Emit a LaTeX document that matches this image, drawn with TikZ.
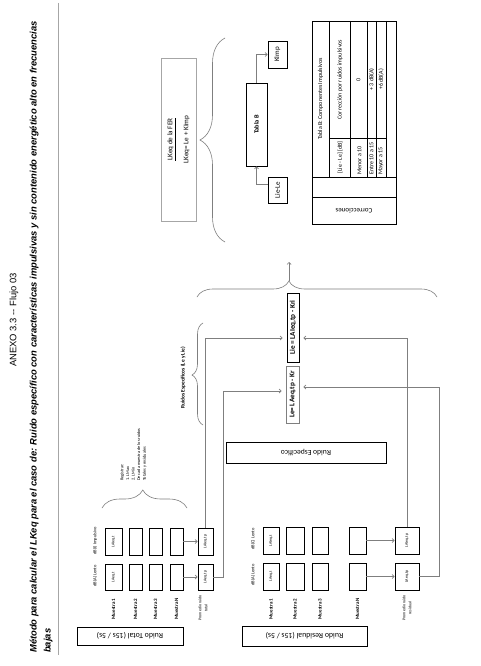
\documentclass[tikz,border=0pt]{standalone}
\usepackage{fontspec}
\usepackage{graphicx}
\setmainfont{Carlito}
\newfontfamily\arialfont{Liberation Sans}
\usetikzlibrary{arrows.meta,positioning,decorations.pathreplacing}
\definecolor{lineagris}{HTML}{7F7F7F}
\definecolor{bordegris}{HTML}{A6A6A6}
\newcommand{\girar}[1]{\rotatebox{90}{#1}}
\tikzset{
  caja/.style={draw, line width=0.9pt, inner sep=0pt, font=\fontsize{4}{5}\selectfont},
  etiqueta/.style={rotate=90, inner sep=0pt, font=\fontsize{4.5}{5.5}\selectfont},
  muestra/.style={rotate=90, inner sep=0pt, font=\bfseries\fontsize{5}{6}\selectfont},
  tabtxt/.style={rotate=90, inner sep=0pt, font=\fontsize{6}{7}\selectfont},
  conector/.style={draw=lineagris, line width=0.7pt},
  flecha/.style={conector, -{Straight Barb[length=2pt,width=4pt]}},
  llave/.style 2 args={draw=lineagris, line width=0.6pt, decorate,
    decoration={brace, amplitude=#1, aspect=#2}},
}

\begin{document}
\begin{tikzpicture}[x=1pt,y=-1pt]
    \path[use as bounding box, fill=white] (0,0) rectangle (480,666);

    % encabezado de la pagina
    \node[rotate=90, font=\arialfont\fontsize{9.4}{12}\selectfont] (anexo) at (14,320) {ANEXO 3.3 -- Flujo 03};
    \node[rotate=90, anchor=base west, inner sep=0pt,
          font=\arialfont\bfseries\itshape\fontsize{9.4}{14}\selectfont] (titulo) at (36.5,653)
        {Método para calcular el LKeq para el caso de: Ruido específico con características impulsivas y sin contenido energético alto en frecuencias};
    \node[rotate=90, anchor=base west, inner sep=0pt,
          font=\arialfont\bfseries\itshape\fontsize{9.4}{14}\selectfont] (titulob) at (50.5,653) {bajas};
    \draw[bordegris, line width=0.6pt] (58,3) -- (58,655);

    % ruido total
    \node[caja, minimum width=106pt, minimum height=18pt, font=\fontsize{7.8}{9}\selectfont] (rtotal) at (130,636) {\rotatebox{180}{Ruido Total (15s / 5s)}};
    \node[etiqueta] (tlA) at (95,541) {dB(I) Impulsivo};
    \node[etiqueta] (tlB) at (95,576) {dB(A) Lento};
    \node[caja, minimum width=17pt, minimum height=27pt] (t1a) at (113.5,541.5) {\girar{LAIeq,t}};
    \node[caja, minimum width=17pt, minimum height=26pt] (t1b) at (113.5,577) {\girar{LAeq,t}};
    \node[caja, minimum width=13pt, minimum height=27pt] (t2a) at (135.5,541.5) {};
    \node[caja, minimum width=13pt, minimum height=26pt] (t2b) at (135.5,577) {};
    \node[caja, minimum width=13pt, minimum height=27pt] (t3a) at (155.5,541.5) {};
    \node[caja, minimum width=13pt, minimum height=26pt] (t3b) at (155.5,577) {};
    \node[caja, minimum width=13pt, minimum height=27pt] (tNa) at (176.5,541.5) {};
    \node[caja, minimum width=13pt, minimum height=26pt] (tNb) at (176.5,577) {};
    \node[caja, minimum width=15pt, minimum height=27pt] (tpa) at (205.5,541.5) {\girar{LAIeq,tp}};
    \node[caja, minimum width=15pt, minimum height=26pt] (tpb) at (205.5,577) {\girar{LAeq,tp}};
    \node[muestra] (tm1) at (113.5,609) {Muestra 1};
    \node[muestra] (tm2) at (135.5,609) {Muestra 2};
    \node[muestra] (tm3) at (155.5,609) {Muestra 3};
    \node[muestra] (tmN) at (176.5,609) {Muestra N};
    \node[etiqueta, align=center, font=\fontsize{4}{6}\selectfont] (tmp) at (203,608) {Promedio ruido\\total};
    \draw[flecha] (tNa.east) -- (tpa.west);
    \draw[flecha] (tNb.east) -- (tpb.west);

    % indicacion de registro
    \draw[llave={18pt}{0.48}] (102,508) -- (187,508);
    \node[etiqueta, anchor=west, align=left, font=\fontsize{4.3}{5.6}\selectfont] (registro) at (133.5,481)
        {Registrar:\\1. LMax\\2. LMin\\De cada muestra de los ruidos\\Totales y residuales};

    % ruido residual
    \node[caja, minimum width=125pt, minimum height=20pt, font=\fontsize{7.8}{9}\selectfont] (rresidual) at (304.5,636) {\rotatebox{180}{Ruido Residual (15s / 5s)}};
    \node[etiqueta] (rlA) at (253,539) {dB(C) Lento};
    \node[etiqueta] (rlB) at (253,575) {dB(A) Lento};
    \node[caja, minimum width=16pt, minimum height=27pt] (r1a) at (271,540.5) {\girar{LAIeq,t}};
    \node[caja, minimum width=16pt, minimum height=27pt] (r1b) at (271,576.5) {\girar{LAeq,t}};
    \node[caja, minimum width=18pt, minimum height=27pt] (r2a) at (295,540.5) {};
    \node[caja, minimum width=18pt, minimum height=27pt] (r2b) at (295,576.5) {};
    \node[caja, minimum width=16pt, minimum height=27pt] (r3a) at (320,540.5) {};
    \node[caja, minimum width=16pt, minimum height=27pt] (r3b) at (320,576.5) {};
    \node[caja, minimum width=17pt, minimum height=27pt] (rNa) at (357.5,540.5) {};
    \node[caja, minimum width=17pt, minimum height=27pt] (rNb) at (357.5,576.5) {};
    \node[caja, minimum width=24pt, minimum height=27pt] (rpa) at (407,540.5) {\girar{LAIeq,tp}};
    \node[caja, minimum width=24pt, minimum height=27pt] (rpb) at (407,576.5) {\girar{LAeq,tp}};
    \node[muestra] (rm1) at (271,609) {Muestra 1};
    \node[muestra] (rm2) at (295,609) {Muestra 2};
    \node[muestra] (rm3) at (320,609) {Muestra 3};
    \node[muestra] (rmN) at (357.5,609) {Muestra N};
    \node[etiqueta, align=center, font=\fontsize{4}{6}\selectfont] (rmp) at (407,608) {Promedio ruido\\residual};
    \draw[flecha] (rNa.east) -- (rpa.west);
    \draw[flecha] (rNb.east) -- (rpb.west);

    % ruido especifico
    \node[caja, minimum width=160pt, minimum height=21pt, font=\fontsize{7.6}{9}\selectfont] (respec) at (306,452.5) {\rotatebox{180}{Ruido Específico}};
    \node[caja, line width=0.8pt, minimum width=12pt, minimum height=69pt, font=\bfseries\fontsize{7.2}{8}\selectfont] (lie) at (293,327.5) {\girar{Lie = LAIeq,tp - Kri}};
    \node[caja, draw=lineagris, line width=0.6pt, minimum width=13pt, minimum height=57pt, font=\bfseries\fontsize{7.2}{8}\selectfont] (le) at (292.5,394.5) {\girar{Le= LAeq,tp - Kr}};
    \draw[flecha, shorten >=4pt] (tpa.north) |- ([yshift=-10.5pt]lie.west);
    \draw[flecha, shorten >=4pt] (tpb.east) -- ++(10,0) |- ([yshift=3.5pt]le.west);
    \draw[flecha, shorten >=4pt] (rpa.north) |- ([yshift=-10.5pt]lie.east);
    \draw[flecha, shorten >=4pt] (rpb.east) -- ++(20,0) |- ([yshift=7.5pt]le.east);
    \draw[llave={11pt}{0.49}] (203,425) -- (203,323);
    \node[etiqueta, font=\bfseries\fontsize{5.4}{6}\selectfont] (respecs) at (183,378) {Ruidos Específicos (Le y Lie)};
    \draw[llave={16pt}{0.383}] (197,297) -- (437,297);
    \coordinate (puntaEsp) at (289,281);
    \coordinate (salidaEsp) at (289,262);
    \draw[flecha] (puntaEsp) -- (salidaEsp);

    % LKeq de la FER
    \node[draw=bordegris, line width=0.6pt, inner sep=0pt, minimum width=35pt, minimum height=163pt,
          font=\fontsize{7.2}{9}\selectfont] (lkeq) at (178.5,139.5)
        {\girar{\begin{tabular}{@{}c@{}}\underline{LKeq de la FER}\\[7pt]LKeq= Le + KImp\end{tabular}}};
    \draw[llave={25pt}{0.5}] (225,242) -- (225,38);

    % tabla B
    \node[caja, minimum width=21pt, minimum height=83pt, font=\bfseries\fontsize{6.3}{7}\selectfont] (tablaB) at (256.5,124.5) {\girar{Tabla B}};
    \node[caja, minimum width=19pt, minimum height=27pt, font=\fontsize{7}{8}\selectfont] (kimp) at (277.5,54.5) {\girar{KImp}};
    \node[caja, minimum width=19pt, minimum height=26pt, font=\fontsize{7}{8}\selectfont] (lieLe) at (277.5,190) {\girar{Lie-Le}};
    \draw[flecha] (tablaB.north) |- (kimp.west);
    \draw[flecha] ([yshift=6pt]lieLe.west) -| (tablaB.south);

    % correcciones
    \draw[line width=0.8pt] (312,21) rectangle (396,224);
    \draw[line width=0.6pt] (312,177) -- (396,177);
    \draw[line width=0.6pt] (312,197) -- (396,197);
    \foreach \xx in {329,350,367,376,386}
        \draw[line width=0.5pt] (\xx,21) -- (\xx,177);
    \draw[line width=0.5pt] (329,138) -- (386,138);
    \node[tabtxt] (tbTit) at (320.5,99) {Tabla B: Componentes Impulsivos};
    \node[tabtxt] (tbDif) at (340,157.5) {[Lie - Le] [dB]};
    \node[tabtxt] (tbCor) at (340,79.5) {Corrección por ruidos impulsivos};
    \node[tabtxt, anchor=west] (tbF1) at (359.5,175) {Menor a 10};
    \node[tabtxt, anchor=west] (tbF2) at (371.5,175) {Entre 10 a 15};
    \node[tabtxt, anchor=west] (tbF3) at (381,175) {Mayor a 15};
    \node[tabtxt] (tbV1) at (358.5,79.5) {0};
    \node[tabtxt] (tbV2) at (371.5,79.5) {+ 3 dB(A)};
    \node[tabtxt] (tbV3) at (381,79.5) {+6 dB(A)};
    \node[inner sep=0pt, rotate=180, font=\fontsize{7}{8}\selectfont] (correcciones) at (354,210.5) {Correcciones};
\end{tikzpicture}
\end{document}
